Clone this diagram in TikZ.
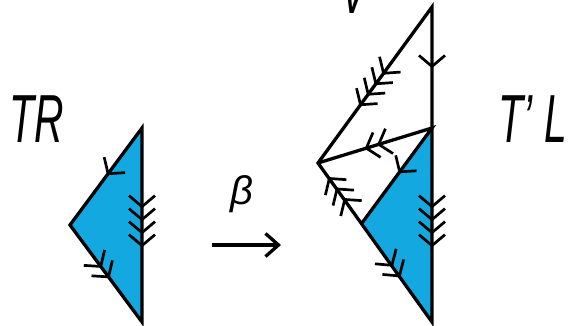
\documentclass[tikz,border=0pt]{standalone}
\usepackage{fontspec}
\newfontfamily\labfont{Liberation Sans}
\usetikzlibrary{arrows.meta,decorations.markings}
\definecolor{cB}{HTML}{14A8E0}
\tikzset{
  edge/.style={line width=3.3pt},
  face/.style={fill=cB},
  lbl/.style={font=\labfont\itshape\fontsize{68}{68}\selectfont,
              xscale=.6,inner sep=0pt,anchor=base},
  mapto/.style={-{Straight Barb[length=13pt,width=23pt]},line width=3.3pt},
  chevs/.style 2 args={postaction={decorate,decoration={markings,
    mark=at position #1 with {\foreach \k in {1,...,#2}{
      \draw[line width=2.7pt] ({(\k-(#2+1)/2)*13pt+5pt},0pt)
        ++(-11pt,13pt) -- ++(11pt,-13pt) -- ++(-11pt,-13pt);}}}}},
}
\begin{document}
\begin{tikzpicture}[x=1pt,y=-1pt]
  \useasboundingbox (0,0) rectangle (574,326);
  % triangle TR
  \coordinate (T) at (142,128);
  \coordinate (L) at (70,225);
  \coordinate (B) at (142,322);
  % figure T'L
  \coordinate (A) at (432,7);
  \coordinate (P) at (318,163);
  \coordinate (M) at (432,128);
  \coordinate (Q) at (362,223);
  \coordinate (Bp) at (432,322);
  \fill[face] (T)--(L)--(B)--cycle;
  \fill[face] (M)--(Q)--(Bp)--cycle;
  \draw[edge] (T)--(L)--(B)--cycle;
  \draw[edge] (A)--(P)--(Bp)--cycle;
  \draw[edge] (P)--(M)--(Q);
  % arrows on the edges
  \path[chevs={.43}{1}] (T)--(L);
  \path[chevs={.44}{2}] (L)--(B);
  \path[chevs={.48}{4}] (T)--(B);
  \path[chevs={.45}{1}] (A)--(M);
  \path[chevs={.5}{4}] (A)--(P);
  \path[chevs={.48}{2}] (M)--(P);
  \path[chevs={.42}{1}] (M)--(Q);
  \path[chevs={.5}{3}] (Q)--(P);
  \path[chevs={.48}{4}] (M)--(Bp);
  \path[chevs={.44}{2}] (Q)--(Bp);
  % labels
  \node[lbl] (tr) at (37,143) {TR};
  \node[lbl] (tl) at (533,143) {T’ L};
  \node[lbl] (top) at (354,14) {V};
  \node[font=\labfont\itshape\fontsize{40}{40}\selectfont,inner sep=0pt,anchor=base] (beta) at (242,205) {β};
  \coordinate (a0) at (212,245);
  \coordinate (a1) at (281,245);
  \draw[mapto] (a0)--(a1);
\end{tikzpicture}
\end{document}
